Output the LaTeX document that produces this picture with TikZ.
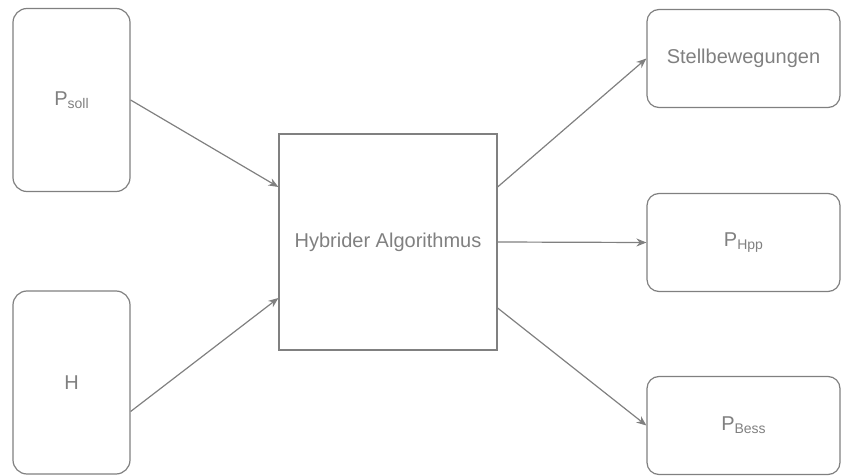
\documentclass[tikz,border=0pt]{standalone}
\usepackage{fontspec}
\setmainfont{Liberation Sans}
\usetikzlibrary{arrows.meta}
\definecolor{grau}{RGB}{128,128,128}
\newcommand{\idx}[1]{{\fontsize{14}{14}\selectfont\raisebox{-3pt}{#1}}}
\begin{document}
\begin{tikzpicture}[x=1pt, y=1pt,
		block/.style={draw=grau, line width=1.2pt, text=grau, font=\fontsize{20}{24}\selectfont, inner sep=0pt},
		eingang/.style={block, rounded corners=14pt, minimum width=117pt, minimum height=183pt},
		ausgang/.style={block, rounded corners=12pt, minimum width=193pt, minimum height=98pt},
		pfeil/.style={draw=grau, line width=1.2pt, -{Stealth[length=10pt, width=8pt]}}]
		\useasboundingbox (0, 0) rectangle (841, 475);
		% eingaenge
		\node[eingang] (psoll) at (71.5, 375) {P\idx{soll}};
		\node[eingang] (h) at (71.5, 92.5) {H};
		% algorithmus
		\node[block, minimum width=218pt, minimum height=216pt] (algo) at (388, 233) {Hybrider Algorithmus};
		% ausgaenge
		\node[ausgang] (stell) at (743.5, 416.5) {Stellbewegungen};
		\node[ausgang] (hpp) at (743.5, 232.5) {P\idx{Hpp}};
		\node[ausgang] (bess) at (743.5, 49.5) {P\idx{Bess}};
		% verbindungen
		\draw[pfeil] (psoll.east) -- ([yshift=55pt]algo.west);
		\draw[pfeil] ([yshift=-29pt]h.east) -- ([yshift=-56pt]algo.west);
		\draw[pfeil] ([yshift=55pt]algo.east) -- (stell.west);
		\draw[pfeil] (algo.east) -- (hpp.west);
		\draw[pfeil] ([yshift=-66pt]algo.east) -- (bess.west);
	\end{tikzpicture}
\end{document}
